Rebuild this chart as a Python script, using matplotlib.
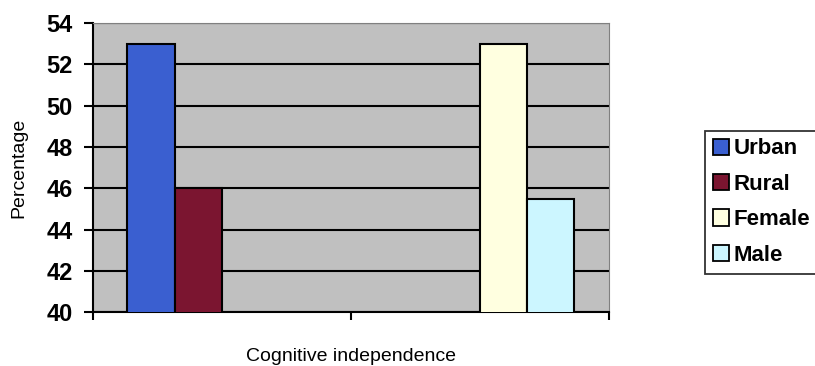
import numpy as np
import matplotlib.pyplot as plt
from matplotlib.patches import Patch

# two category slots, each series only has a value in one of them
categories = ["", ""]
series_names = ["Urban", "Rural", "Female", "Male"]
urban = [53, np.nan]
rural = [46, np.nan]
female = [np.nan, 53]
male = [np.nan, 45.5]
colors = ["#3a5fd0", "#7b1530", "#ffffe0", "#ccf6ff"]

fig = plt.figure(figsize=(8.15, 3.66), dpi=100)
ax = fig.add_axes([0.114, 0.147, 0.633, 0.79])
ax.set_facecolor("#c0c0c0")

x = np.arange(len(categories))
w = 0.183
values = [urban, rural, female, male]
for i, (vals, c) in enumerate(zip(values, colors)):
    ax.bar(x + (i - 1.5) * w, vals, width=w, bottom=0, color=c,
           edgecolor="black", linewidth=1.5, zorder=3)

ax.set_ylim(40, 54)
ax.set_xlim(-0.5, 1.5)
ax.set_yticks(np.arange(40, 55, 2))
ax.set_xticks([-0.5, 0.5, 1.5])
ax.set_xticklabels([])
ax.yaxis.grid(True, color="black", linewidth=1.5, zorder=1)
ax.set_axisbelow(True)

for lbl in ax.get_yticklabels():
    lbl.set_fontweight("bold")
    lbl.set_fontfamily("Liberation Sans")
ax.tick_params(axis="y", labelsize=17, length=6.5, width=1.5, direction="out", pad=8)
ax.tick_params(axis="x", length=6, width=1.5, direction="out", pad=0)

ax.spines["left"].set_linewidth(1.5)
ax.spines["bottom"].set_linewidth(1.5)
ax.spines["top"].set_color("#808080")
ax.spines["right"].set_color("#808080")

ax.set_ylabel("Percentage", fontsize=14, family="Liberation Sans", labelpad=14)
ax.set_xlabel("Cognitive independence", fontsize=14, family="Liberation Sans", labelpad=20)

handles = [Patch(facecolor=c, edgecolor="black", linewidth=1.3) for c in colors]
leg = fig.legend(handles, series_names, loc="upper left",
                 bbox_to_anchor=(0.865, 0.643), bbox_transform=fig.transFigure,
                 fancybox=False, frameon=True, handlelength=0.75, handleheight=0.75,
                 handletextpad=0.2, labelspacing=0.65, borderpad=0.35, borderaxespad=0,
                 prop={"family": "Liberation Sans", "weight": "bold", "size": 16})
leg.get_frame().set_edgecolor("black")
leg.get_frame().set_linewidth(1.3)

fig.savefig("out.png", dpi=100)
